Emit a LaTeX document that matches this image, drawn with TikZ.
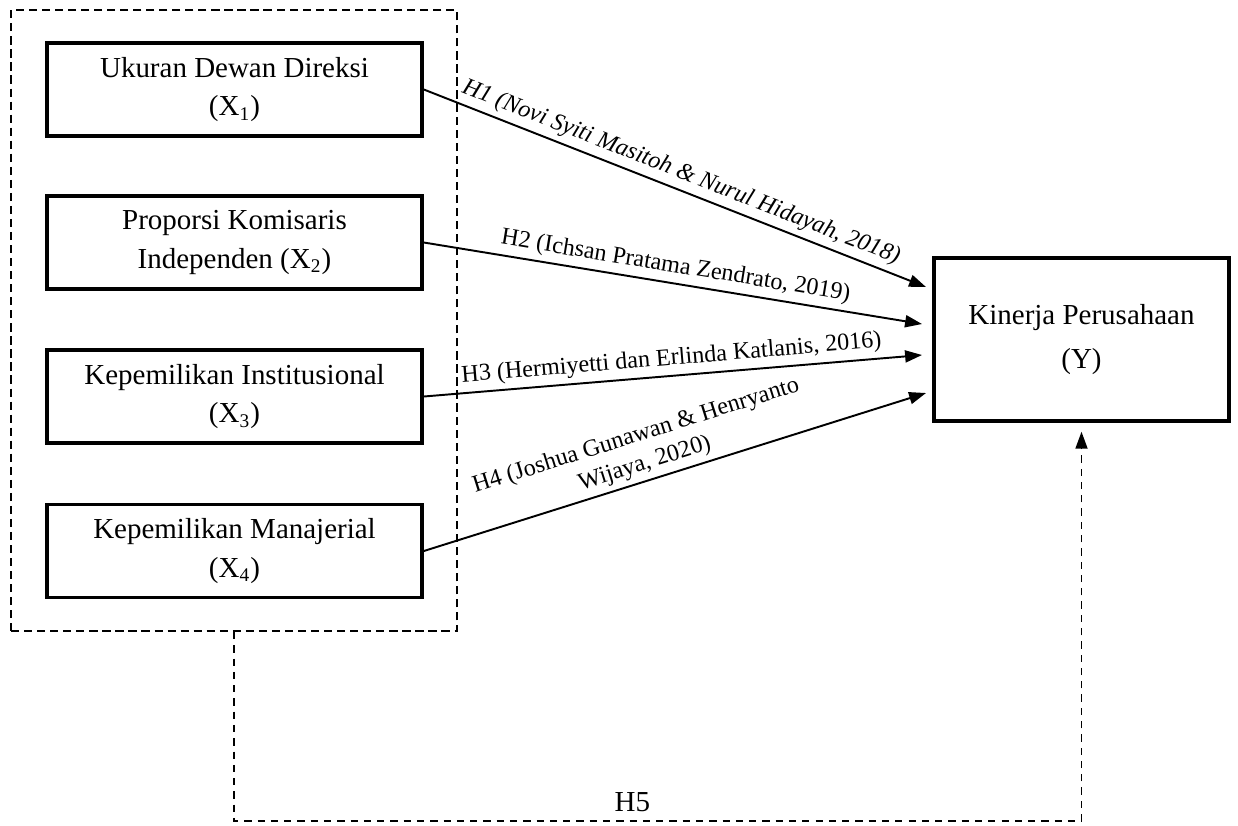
\documentclass[tikz,border=0pt]{standalone}
\usepackage{fontspec}
\setmainfont{Liberation Serif}
\usetikzlibrary{arrows.meta, positioning}

\begin{document}
\begin{tikzpicture}[
  x=0.414pt, y=-0.414pt,
  every node/.style={align=center},
  % Variables - plain boxes with a heavy black frame
  varbox/.style={rectangle, draw=black, line width=1.5pt, minimum width=155.3pt, minimum height=38.5pt, font=\fontsize{12}{16}\selectfont},
  % Group of the independent variables - dashed frame
  groupbox/.style={rectangle, draw=black, line width=0.8pt, dash pattern=on 3.4pt off 2pt, minimum width=184.6pt, minimum height=257.1pt},
  % Edges (hypotheses) - solid arrows, the joint one dashed
  edge/.style={-{Triangle[length=7pt, width=5pt]}, line width=0.8pt, draw=black},
  jointedge/.style={-{Triangle[length=7pt, width=5pt]}, line width=0.6pt, draw=black, dash pattern=on 3pt off 2.5pt},
  edgelabel/.style={font=\fontsize{10}{12}\selectfont, inner sep=2pt}
]
\useasboundingbox (0,0) rectangle (1238,825);

% === NODES (Variables) ===

% Independent variables, inside the dashed group
\node[groupbox] (indep) at (234,320.5) {};
\node[varbox] (ukuran) at (234.5,89.5) {Ukuran Dewan Direksi\\(X\textsubscript{1})};
\node[varbox] (komisaris) at (234.5,242.5) {Proporsi Komisaris\\Independen (X\textsubscript{2})};
\node[varbox] (institusi) at (234.5,396.5) {Kepemilikan Institusional\\(X\textsubscript{3})};
\node[varbox] (manajerial) at (234.5,551) {Kepemilikan Manajerial\\(X\textsubscript{4})};

% Dependent variable
\node[varbox, minimum width=122.1pt, minimum height=67.5pt, font=\fontsize{12}{18}\selectfont] (kinerja) at (1081.5,339.5) {Kinerja Perusahaan\\(Y)};

% Arrow ends, just left of the Y box
\coordinate (in1) at (926,287);
\coordinate (in2) at (922,324);
\coordinate (in3) at (922,355);
\coordinate (in4) at (926,393);

% === EDGES (Hypotheses) ===

% H1 - H4: each variable -> Y
\draw[edge] (ukuran.east) -- node[edgelabel, above, sloped] {\itshape H1 (Novi Syiti Masitoh \& Nurul Hidayah, 2018)} (in1);
\draw[edge] (komisaris.east) -- node[edgelabel, above, sloped] {H2 (Ichsan Pratama Zendrato, 2019)} (in2);
\draw[edge] (institusi.east) -- node[edgelabel, above, sloped] {H3 (Hermiyetti dan Erlinda Katlanis, 2016)} (in3);
\draw[edge] (manajerial.east) -- node[edgelabel, above, sloped, pos=0.45] {H4 (Joshua Gunawan \& Henryanto\\Wijaya, 2020)} (in4);

% H5: all variables together -> Y
\draw[jointedge] (indep.south) -- ++(0,189) -| node[pos=0.235, above, font=\fontsize{12}{14}\selectfont] {H5} ([yshift=-3.7pt]kinerja.south);

\end{tikzpicture}
\end{document}
